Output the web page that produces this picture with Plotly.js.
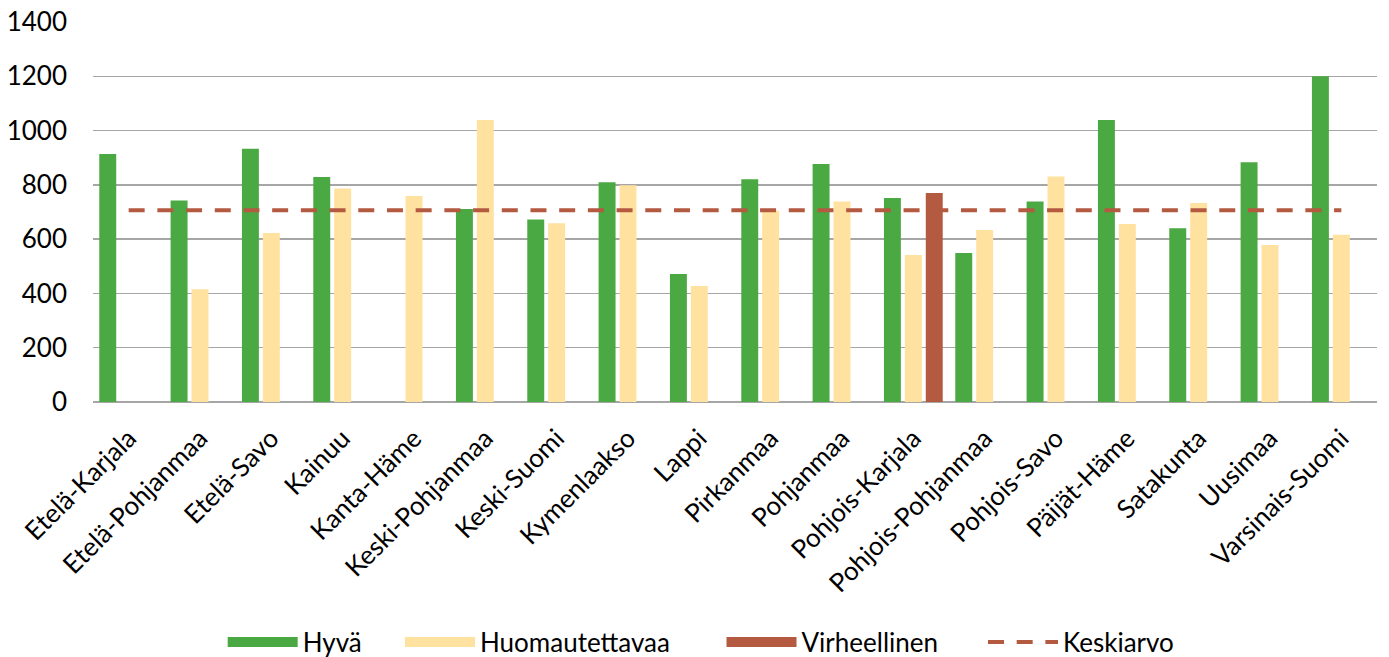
<!DOCTYPE html>
<html>
<head>
<meta charset="utf-8">
<script src="https://cdn.plot.ly/plotly-3.0.1.min.js"></script>
<style>html,body{margin:0;padding:0;background:#fff;}#chart{width:1389px;height:657px;}</style>
</head>
<body>
<div id="chart"></div>
<script>
const categories = ["Etelä-Karjala","Etelä-Pohjanmaa","Etelä-Savo","Kainuu","Kanta-Häme","Keski-Pohjanmaa","Keski-Suomi","Kymenlaakso","Lappi","Pirkanmaa","Pohjanmaa","Pohjois-Karjala","Pohjois-Pohjanmaa","Pohjois-Savo","Päijät-Häme","Satakunta","Uusimaa","Varsinais-Suomi"];
const hyva = [914, 742, 933, 829, null, 711, 672, 810, 472, 821, 877, 752, 549, 739, 1039, 640, 883, 1200];
const huomautettavaa = [null, 415, 623, 787, 759, 1039, 659, 799, 427, 705, 739, 542, 634, 831, 656, 733, 578, 616];
const virheellinen = [null, null, null, null, null, null, null, null, null, null, null, 770, null, null, null, null, null, null];
const keskiarvo = [706, 706, 706, 706, 706, 706, 706, 706, 706, 706, 706, 706, 706, 706, 706, 706, 706, 706];
const seriesNames = ["Hyvä", "Huomautettavaa", "Virheellinen", "Keskiarvo"];

const cGreen = "#4AA942", cYellow = "#FFE1A0", cBrown = "#B45A41";
const FONT = "Lato, 'Open Sans', sans-serif";
const pad = n => "\u00a0".repeat(n);

const traces = [
  {type:"bar", x:categories, y:hyva, name:seriesNames[0], marker:{color:cGreen}, showlegend:false},
  {type:"bar", x:categories, y:huomautettavaa, name:seriesNames[1], marker:{color:cYellow}, showlegend:false},
  {type:"bar", x:categories, y:virheellinen, name:seriesNames[2], marker:{color:cBrown}, showlegend:false},
  // legend swatches for the bar series
  {type:"scatter", mode:"lines", x:[null], y:[null], name:seriesNames[0] + pad(5), line:{color:cGreen, width:14}},
  {type:"scatter", mode:"lines", x:[null], y:[null], name:seriesNames[1] + pad(7), line:{color:cYellow, width:14}},
  {type:"scatter", mode:"lines", x:[null], y:[null], name:seriesNames[2] + pad(6), line:{color:cBrown, width:14}},
  {type:"scatter", mode:"lines", x:categories, y:keskiarvo, name:seriesNames[3], line:{color:cBrown, width:4, dash:"16px,12.7px"}}
];

const layout = {
  width:1389, height:657,
  margin:{l:93, r:12, t:22, b:255, autoexpand:false},
  paper_bgcolor:"#fff", plot_bgcolor:"#fff",
  font:{family:FONT, color:"#000"},
  barmode:"group", bargap:0.12, bargroupgap:0.19,
  xaxis:{type:"category", automargin:false, tickangle:-45, tickfont:{size:26, family:FONT, color:"#000"}, showgrid:false, ticks:"", showline:false, ticklabelstandoff:15},
  yaxis:{automargin:false, range:[0,1400], dtick:200, tickfont:{size:26, family:FONT, color:"#000"}, gridcolor:"#a6a6a6", gridwidth:1.5, zeroline:true, zerolinecolor:"#a6a6a6", zerolinewidth:1.5, ticks:"", ticklabelstandoff:25, showline:false},
  showlegend:true,
  legend:{orientation:"h", x:0.101, xanchor:"left", y:-0.6316, yanchor:"middle", font:{size:26, family:FONT, color:"#000"}, itemwidth:70, traceorder:"normal", bgcolor:"rgba(0,0,0,0)"}
};

Plotly.newPlot("chart", traces, layout, {displayModeBar:false, staticPlot:true});
</script>
</body>
</html>
